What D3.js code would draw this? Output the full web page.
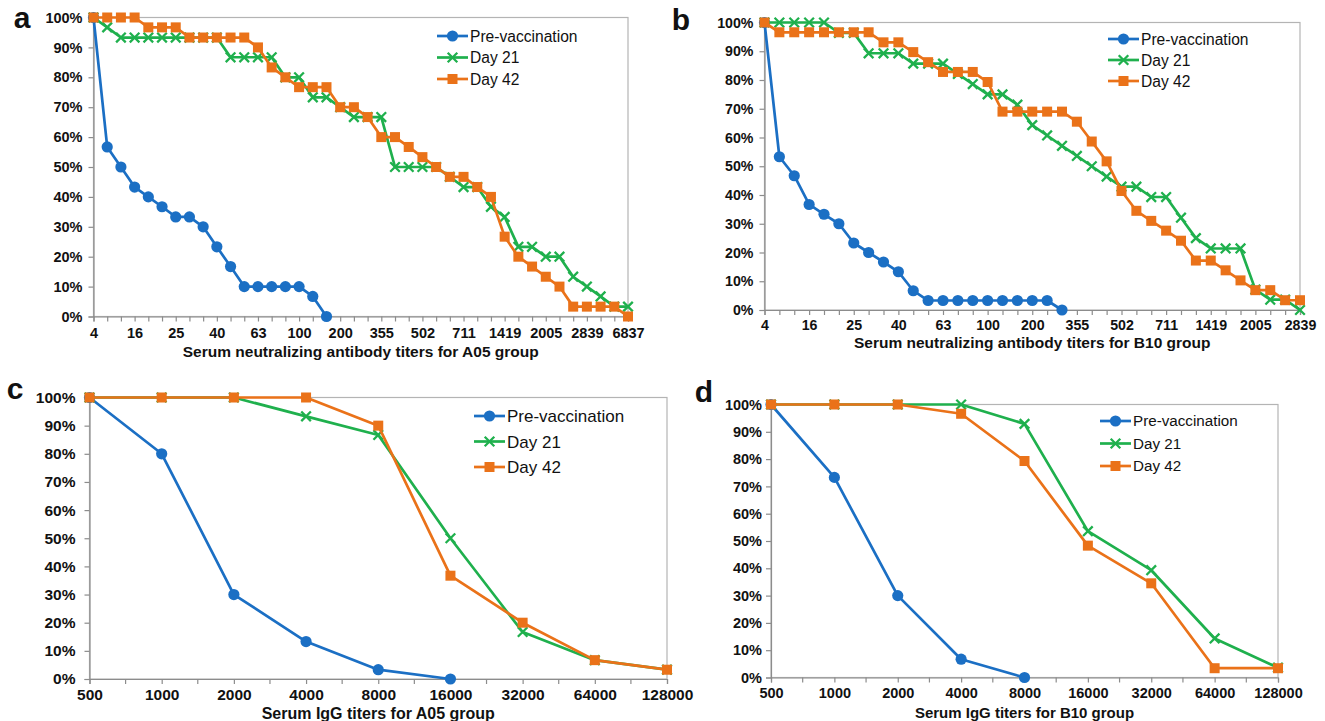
<!DOCTYPE html>
<html>
<head>
<meta charset="utf-8">
<script src="https://cdn.jsdelivr.net/npm/d3@7"></script>
<style>
  body { margin: 0; background: #fff; }
  svg text { font-family: "Liberation Sans", Arial, sans-serif; fill: #111; }
</style>
</head>
<body>
<svg id="chart" width="1325" height="721"></svg>
<script>
// panel a/b: category axis, only every 3rd titer is labelled
var labelsA = ["4","16","25","40","63","100","200","355","502","711","1419","2005","2839","6837"];
var preA = [100,56.7,50,43.3,40,36.7,33.3,33.3,30,23.3,16.7,10,10,10,10,10,6.7,0];
var d21A = [100,96.7,93.3,93.3,93.3,93.3,93.3,93.3,93.3,93.3,86.7,86.7,86.7,86.7,80,80,73.3,73.3,70,66.7,
            66.7,66.7,50,50,50,50,46.7,43.3,43.3,36.7,33.3,23.3,23.3,20,20,13.3,10,6.7,3.3,3.3];
var d42A = [100,100,100,100,96.7,96.7,96.7,93.3,93.3,93.3,93.3,93.3,90,83.3,80,76.7,76.7,76.7,70,70,
            66.7,60,60,56.7,53.3,50,46.7,46.7,43.3,40,26.7,20,16.7,13.3,10,3.3,3.3,3.3,3.3,0];

var labelsB = ["4","16","25","40","63","100","200","355","502","711","1419","2005","2839"];
var preB = [100,53.3,46.7,36.7,33.3,30,23.3,20,16.7,13.3,6.7,3.3,3.3,3.3,3.3,3.3,3.3,3.3,3.3,3.3,0];
var d21B = [100,100,100,100,100,96.4,96.4,89.3,89.3,89.3,85.7,85.7,85.7,82.1,78.6,75,75,71.4,64.3,60.7,
            57.1,53.6,50,46.4,42.9,42.9,39.3,39.3,32.1,25,21.4,21.4,21.4,7.1,3.6,3.6,0];
var d42B = [100,96.6,96.6,96.6,96.6,96.6,96.6,96.6,93.1,93.1,89.7,86.2,82.8,82.8,82.8,79.3,69,69,69,69,
            69,65.5,58.6,51.7,41.4,34.5,31,27.6,24.1,17.2,17.2,13.8,10.3,6.9,6.9,3.4,3.4];

// panel c/d: IgG titers
var labelsIgG = ["500","1000","2000","4000","8000","16000","32000","64000","128000"];
var preC = [100,80,30,13.3,3.3,0];
var d21C = [100,100,100,93.3,86.7,50,16.7,6.7,3.3];
var d42C = [100,100,100,100,90,36.7,20,6.7,3.3];
var preD = [100,73.3,30,6.7,0];
var d21D = [100,100,100,100,92.9,53.6,39.3,14.3,3.6];
var d42D = [100,100,100,96.6,79.3,48.3,34.5,3.4,3.4];

var seriesNames = ["Pre-vaccination","Day 21","Day 42"];
var colors = ["#1b6fc4","#1fb04d","#ea7219"];
var markers = ["circle","cross","square"];

var svg = d3.select("#chart");

function drawMarker(g, type, cx, cy, col){
  if (type == "circle") {
    g.append("circle").attr("cx",cx).attr("cy",cy).attr("r",5.6).attr("fill",col);
  } else if (type == "square") {
    g.append("rect").attr("x",cx-5).attr("y",cy-5).attr("width",10).attr("height",10).attr("fill",col);
  } else {
    var s = 4.8;
    g.append("path").attr("d","M"+(cx-s)+","+(cy-s)+"L"+(cx+s)+","+(cy+s)+"M"+(cx-s)+","+(cy+s)+"L"+(cx+s)+","+(cy-s))
      .attr("stroke",col).attr("stroke-width",2.3).attr("fill","none");
  }
}

function panel(cfg){
  var g = svg.append("g");
  var n = cfg.series[1].length;
  var x = d3.scalePoint().domain(d3.range(n)).range([cfg.x0, cfg.x1]);
  var y = d3.scaleLinear().domain([0,100]).range([cfg.y1, cfg.y0]);

  g.append("rect").attr("x",cfg.x0).attr("y",cfg.y0)
    .attr("width",cfg.x1-cfg.x0).attr("height",cfg.y1-cfg.y0)
    .attr("fill","none").attr("stroke","#b4b4b4").attr("stroke-width",1.2);

  var ya = g.append("g").attr("transform","translate("+cfg.x0+",0)")
    .call(d3.axisLeft(y).tickValues(d3.range(0,101,10)).tickSize(5).tickPadding(cfg.yPad)
      .tickFormat(function(d){ return d+"%"; }));
  var every = cfg.every;
  var xa = g.append("g").attr("transform","translate(0,"+cfg.y1+")")
    .call(d3.axisBottom(x).tickSize(5).tickPadding(cfg.xPad)
      .tickFormat(function(i){ return i % every ? "" : cfg.labels[i/every]; }));
  [ya, xa].forEach(function(a){
    a.select(".domain").attr("stroke","#8c8c8c").attr("stroke-width",1.2);
    a.selectAll(".tick line").attr("stroke","#8c8c8c").attr("stroke-width",1.2);
    a.selectAll("text").attr("font-size",cfg.tickFont).attr("font-weight","bold").attr("fill","#111");
  });
  // half-step ticks on the IgG axes
  if (cfg.midTicks) {
    var step = x.step();
    g.selectAll(".mid").data(d3.range(n-1)).enter().append("line")
      .attr("x1",function(i){ return x(i)+step/2; }).attr("x2",function(i){ return x(i)+step/2; })
      .attr("y1",cfg.y1).attr("y2",cfg.y1+5).attr("stroke","#8c8c8c").attr("stroke-width",1.2);
  }

  var line = d3.line().x(function(d,i){ return x(i); }).y(function(d){ return y(d); });
  cfg.series.forEach(function(s, k){
    g.append("path").datum(s).attr("d",line).attr("fill","none")
      .attr("stroke",colors[k]).attr("stroke-width",2.7).attr("stroke-linejoin","round");
    s.forEach(function(v, i){ drawMarker(g, markers[k], x(i), y(v), colors[k]); });
  });

  // legend
  seriesNames.forEach(function(name, k){
    var ly = cfg.legY + k*cfg.legStep;
    g.append("line").attr("x1",cfg.legX).attr("x2",cfg.legX+31).attr("y1",ly).attr("y2",ly)
      .attr("stroke",colors[k]).attr("stroke-width",2.7);
    drawMarker(g, markers[k], cfg.legX+15.5, ly, colors[k]);
    g.append("text").attr("x",cfg.legX+33).attr("y",ly).attr("dy","0.36em")
      .attr("font-size",cfg.legFont).text(name);
  });

  g.append("text").attr("x",(cfg.x0+cfg.x1)/2).attr("y",cfg.titleY).attr("text-anchor","middle")
    .attr("font-size",cfg.titleFont).attr("font-weight","bold").text(cfg.title);
  g.append("text").attr("x",cfg.letterX).attr("y",cfg.letterY).attr("text-anchor","middle")
    .attr("font-size",30).attr("font-weight","bold").text(cfg.letter);
}

panel({letter:"a", letterX:22, letterY:28, x0:93.5, x1:628, y0:17.5, y1:316.5,
  series:[preA,d21A,d42A], labels:labelsA, every:3, midTicks:false,
  yPad:6, xPad:6, tickFont:14.5, title:"Serum neutralizing antibody titers for A05 group",
  titleY:357, titleFont:15.5, legX:437, legY:36, legStep:21.5, legFont:15.6});

panel({letter:"b", letterX:681, letterY:30, x0:764.5, x1:1300, y0:22.5, y1:310,
  series:[preB,d21B,d42B], labels:labelsB, every:3, midTicks:false,
  yPad:6, xPad:5, tickFont:14.2, title:"Serum neutralizing antibody titers for B10 group",
  titleY:348, titleFont:15.5, legX:1108, legY:39, legStep:21, legFont:15.6});

panel({letter:"c", letterX:15, letterY:399, x0:89.5, x1:667, y0:397.5, y1:679,
  series:[preC,d21C,d42C], labels:labelsIgG, every:1, midTicks:true,
  yPad:9, xPad:5, tickFont:15.5, title:"Serum IgG titers for A05 group",
  titleY:719, titleFont:16, legX:474, legY:416, legStep:25.5, legFont:17});

panel({letter:"d", letterX:704, letterY:402, x0:771, x1:1278, y0:404.5, y1:677.5,
  series:[preD,d21D,d42D], labels:labelsIgG, every:1, midTicks:true,
  yPad:4, xPad:5, tickFont:14.5, title:"Serum IgG titers for B10 group",
  titleY:718, titleFont:15, legX:1100, legY:421, legStep:22.5, legFont:15.2});
</script>
</body>
</html>
